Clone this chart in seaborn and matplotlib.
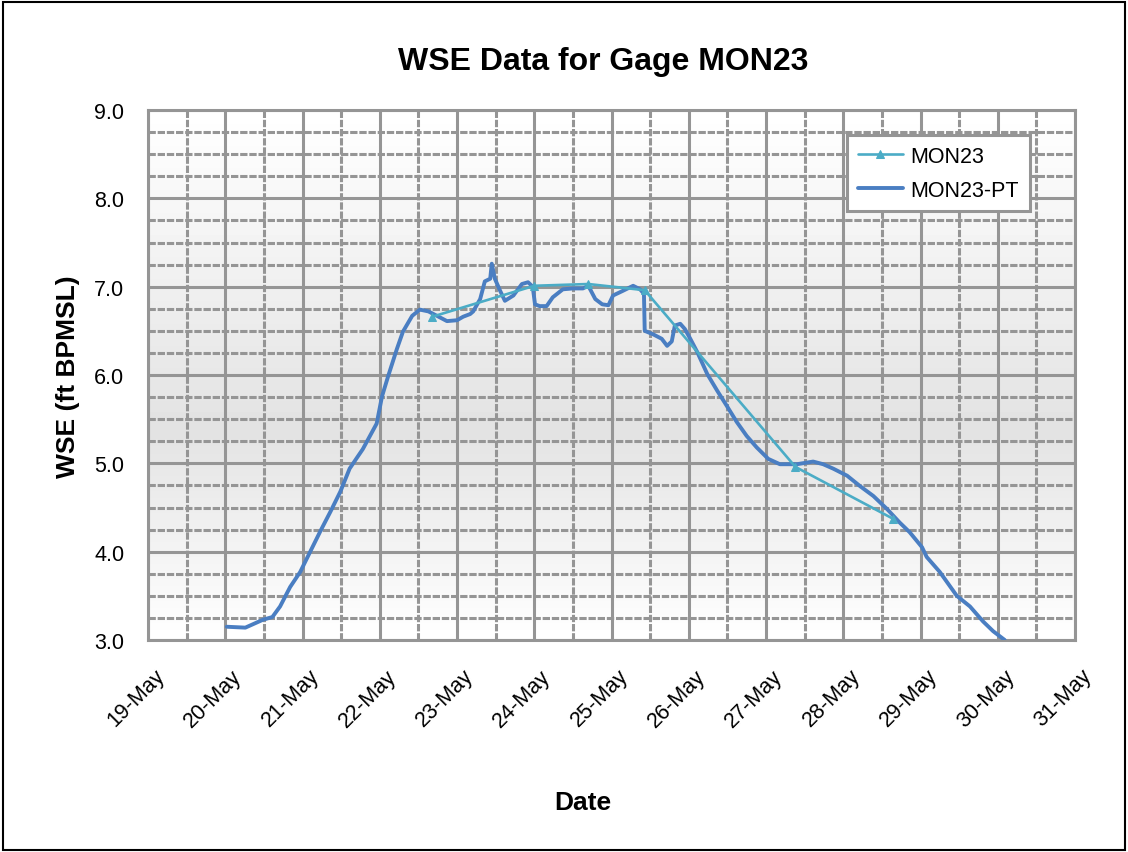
import numpy as np
import pandas as pd
import matplotlib
matplotlib.use("Agg")
import matplotlib.pyplot as plt
import matplotlib.dates as mdates
import matplotlib.transforms as mtransforms
from matplotlib.patches import Rectangle
import seaborn as sns

# DATA (day of May, WSE in ft BPMSL)
mon23_day = [22.68, 24.00, 24.70, 25.43, 27.38, 28.65]
mon23_wse = [6.66, 7.01, 7.03, 6.96, 4.96, 4.37]

pt_day = [20.02, 20.26, 20.49, 20.61, 20.71, 20.84, 20.97, 21.10, 21.23, 21.36,
          21.49, 21.61, 21.71, 21.78, 21.96, 22.03, 22.11, 22.22, 22.30, 22.42,
          22.52, 22.63, 22.74, 22.87, 23.00, 23.08, 23.17, 23.21, 23.30, 23.36,
          23.43, 23.45, 23.49, 23.56, 23.62, 23.73, 23.84, 23.92, 23.98, 24.01,
          24.07, 24.16, 24.24, 24.37, 24.50, 24.63, 24.70, 24.79, 24.88, 24.96,
          25.02, 25.14, 25.28, 25.37, 25.42, 25.43, 25.54, 25.65, 25.72, 25.78,
          25.82, 25.89, 25.95, 26.02, 26.11, 26.24, 26.37, 26.50, 26.62, 26.75,
          26.88, 27.03, 27.18, 27.40, 27.61, 27.74, 27.87, 28.05, 28.22, 28.39,
          28.57, 28.73, 28.86, 29.02, 29.08, 29.25, 29.47, 29.64, 29.81, 29.94,
          30.09]
pt_wse = [3.15, 3.14, 3.23, 3.26, 3.38, 3.60, 3.77, 4.00, 4.23, 4.45,
          4.68, 4.94, 5.07, 5.16, 5.45, 5.76, 5.99, 6.29, 6.49, 6.67,
          6.74, 6.72, 6.67, 6.61, 6.62, 6.66, 6.69, 6.72, 6.86, 7.06,
          7.09, 7.26, 7.09, 6.95, 6.84, 6.90, 7.03, 7.05, 7.00, 6.80,
          6.78, 6.78, 6.88, 6.97, 6.98, 6.98, 7.01, 6.86, 6.80, 6.79,
          6.90, 6.95, 7.01, 6.97, 6.92, 6.50, 6.46, 6.41, 6.33, 6.38,
          6.56, 6.58, 6.52, 6.41, 6.26, 6.01, 5.82, 5.64, 5.47, 5.31,
          5.18, 5.05, 4.99, 4.99, 5.02, 4.99, 4.94, 4.86, 4.74, 4.63,
          4.48, 4.33, 4.22, 4.05, 3.94, 3.77, 3.50, 3.38, 3.21, 3.10,
          3.00]

series_names = ["MON23", "MON23-PT"]
series_colors = ["#4BACC6", "#4A7EC2"]

base = pd.Timestamp("2010-05-01")


def to_dates(days):
    return base + pd.to_timedelta(np.array(days) - 1, unit="D")


df_gage = pd.DataFrame({"Date": to_dates(mon23_day), "WSE": mon23_wse})
df_pt = pd.DataFrame({"Date": to_dates(pt_day), "WSE": pt_wse})

# PLOTTING
sns.set_style("white")
plt.rcParams["font.family"] = ["Liberation Sans", "DejaVu Sans"]
plt.rcParams["text.color"] = "black"
plt.rcParams["xtick.labelcolor"] = "black"
plt.rcParams["ytick.labelcolor"] = "black"

fig = plt.figure(figsize=(11.28, 8.53), dpi=100)
ax = fig.add_axes([148 / 1128, 1 - 641 / 853, 927 / 1128, 530 / 853])

# plot-area gradient: white at top and bottom, grey in the middle
grad = np.concatenate([np.linspace(1.0, 0.89, 60), np.linspace(0.89, 1.0, 40)]).reshape(-1, 1)
ax.imshow(grad, extent=[0, 1, 0, 1], transform=ax.transAxes, aspect="auto",
          cmap="gray", vmin=0, vmax=1, zorder=0, interpolation="bilinear")

sns.lineplot(data=df_pt, x="Date", y="WSE", ax=ax, color=series_colors[1],
             linewidth=2.8, sort=False, estimator=None, label=series_names[1], zorder=3)
sns.lineplot(data=df_gage, x="Date", y="WSE", ax=ax, color=series_colors[0],
             linewidth=1.9, marker="^", markersize=6, markeredgecolor=series_colors[0],
             sort=False, estimator=None, label=series_names[0], zorder=4)

ax.set_xlim(base + pd.Timedelta(days=18), base + pd.Timedelta(days=30))
ax.set_ylim(3.0, 9.0)
ax.set_aspect("auto")

ax.xaxis.set_major_locator(mdates.DayLocator())
ax.xaxis.set_minor_locator(mdates.HourLocator(byhour=[12]))
ax.xaxis.set_major_formatter(mdates.DateFormatter("%d-%b"))
ax.set_yticks(np.arange(3.0, 9.01, 1.0))
ax.set_yticks(np.arange(3.0, 9.01, 0.25), minor=True)
ax.yaxis.set_major_formatter(matplotlib.ticker.FormatStrFormatter("%.1f"))

grid_c = "#959595"
ax.set_axisbelow(True)
ax.grid(which="major", color=grid_c, linewidth=2.2, linestyle="-", zorder=1)
ax.grid(which="minor", color=grid_c, linewidth=2.2, linestyle=(0, (2.4, 0.6)), zorder=1)
for s in ax.spines.values():
    s.set_color(grid_c)
    s.set_linewidth(2.2)

ax.tick_params(axis="x", which="both", direction="out", length=6, width=2.2,
               color=grid_c, pad=12, labelsize=15.5, labelcolor="black")
ax.tick_params(axis="y", which="both", length=0, pad=17, labelsize=15.5, labelcolor="black")
shift = mtransforms.ScaledTranslation(6 / 100, 0, fig.dpi_scale_trans)
for lbl in ax.get_xticklabels():
    lbl.set_rotation(45)
    lbl.set_ha("right")
    lbl.set_va("top")
    lbl.set_rotation_mode("anchor")
    lbl.set_transform(lbl.get_transform() + shift)

ax.set_xlabel("")
ax.set_ylabel("")

fig.text(603 / 1128, 1 - 62 / 853, "WSE Data for Gage MON23", ha="center", va="center",
         fontsize=23, fontweight="bold", color="black")
fig.text(68 / 1128, 1 - 377 / 853, "WSE (ft BPMSL)", ha="center", va="center",
         rotation=90, fontsize=19, fontweight="bold", color="black")
fig.text(583 / 1128, 1 - 803 / 853, "Date", ha="center", va="center",
         fontsize=19, fontweight="bold", color="black")

# legend: MON23 first, then MON23-PT
h, l = ax.get_legend_handles_labels()
order = [l.index(n) for n in series_names]
leg = ax.legend([h[i] for i in order], [l[i] for i in order], loc="upper left",
                bbox_to_anchor=(0.754, 0.953), borderaxespad=0, frameon=True,
                fancybox=False, fontsize=15.5, handlelength=2.1, handletextpad=0.35,
                labelspacing=0.6, borderpad=0.5, labelcolor="black")
leg.get_frame().set_edgecolor(grid_c)
leg.get_frame().set_linewidth(2.2)
leg.get_frame().set_facecolor("white")
leg.get_frame().set_alpha(1)

# outer chart border
fig.patches.append(Rectangle((0.003, 0.002), 0.994, 0.994, transform=fig.transFigure,
                             fill=False, edgecolor="black", linewidth=1.5))

fig.savefig("out.png", dpi=100)
